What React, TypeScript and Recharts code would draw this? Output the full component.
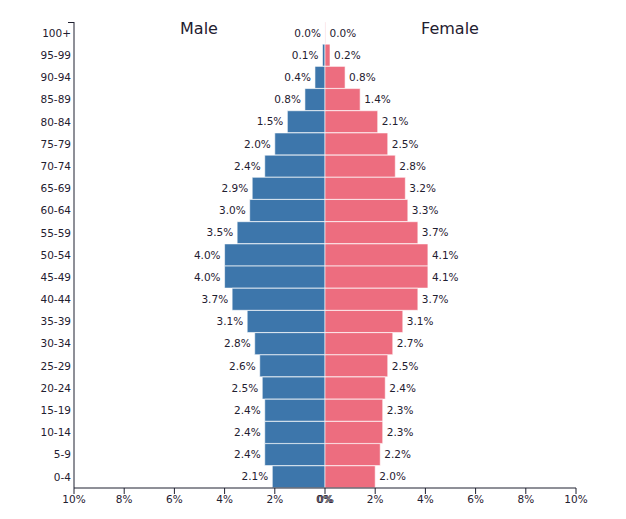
import { Bar, BarChart, LabelList, XAxis, YAxis } from "recharts";

// Age groups, oldest first so they run top to bottom
const ageGroups = [
  "100+", "95-99", "90-94", "85-89", "80-84", "75-79", "70-74",
  "65-69", "60-64", "55-59", "50-54", "45-49", "40-44", "35-39",
  "30-34", "25-29", "20-24", "15-19", "10-14", "5-9", "0-4",
];

// Share of total population, percent
const malePct = [
  0.0, 0.1, 0.4, 0.8, 1.5, 2.0, 2.4, 2.9, 3.0, 3.5, 4.0,
  4.0, 3.7, 3.1, 2.8, 2.6, 2.5, 2.4, 2.4, 2.4, 2.1,
];
const femalePct = [
  0.0, 0.2, 0.8, 1.4, 2.1, 2.5, 2.8, 3.2, 3.3, 3.7, 4.1,
  4.1, 3.7, 3.1, 2.7, 2.5, 2.4, 2.3, 2.3, 2.2, 2.0,
];

const xTicks = [-10, -8, -6, -4, -2, 0, 2, 4, 6, 8, 10];

const MALE = "#3d76ab";
const FEMALE = "#ed6d7f";
const INK = "#1f2030";
const FONT = "DejaVu Sans, sans-serif";
const EDGE = "rgba(255,255,255,0.6)";

// males go negative so they extend left of the centre line
const rows = ageGroups.map((age, i) => ({
  age,
  male: -malePct[i],
  female: femalePct[i],
}));

function XTick(props: any) {
  const { x, y, payload } = props;
  const v = payload.value as number;
  const label = `${Math.abs(v)}%`;
  // the two halves both end on 0%, so it is drawn twice
  const offsets = v === 0 ? [-0.6, 0.6] : [0];
  return (
    <g>
      {offsets.map((o) => (
        <text
          key={o}
          x={x + o}
          y={y}
          dy="0.71em"
          textAnchor="middle"
          fill={INK}
          fontSize={10.5}
          fontFamily={FONT}
        >
          {label}
        </text>
      ))}
    </g>
  );
}

function barLabel(side: "left" | "right") {
  return (props: any) => {
    const { x, y, width, height, value } = props;
    const a = Number(x);
    const b = Number(x) + Number(width);
    const edge = side === "left" ? Math.min(a, b) - 4 : Math.max(a, b) + 4;
    return (
      <text
        x={edge}
        y={Number(y) + Number(height) / 2}
        dy="0.35em"
        textAnchor={side === "left" ? "end" : "start"}
        fill={INK}
        fontSize={10.5}
        fontFamily={FONT}
      >
        {Math.abs(Number(value)).toFixed(1)}%
      </text>
    );
  };
}

export default function App() {
  return (
    <div
      style={{
        position: "absolute",
        left: 0,
        top: 0,
        width: 626,
        height: 519,
        background: "#fff",
        fontFamily: FONT,
      }}
    >
      <BarChart
        width={626}
        height={519}
        data={rows}
        layout="vertical"
        stackOffset="sign"
        barCategoryGap={0}
        margin={{ top: 22, right: 50, bottom: 6, left: 0 }}
      >
        <XAxis
          type="number"
          domain={[-10, 10]}
          ticks={xTicks}
          interval={0}
          height={25}
          tick={<XTick />}
          tickSize={6}
          tickMargin={2}
          axisLine={{ stroke: INK }}
          tickLine={{ stroke: INK }}
        />
        <YAxis
          type="category"
          dataKey="age"
          width={74}
          interval={0}
          tickLine={false}
          tickSize={0}
          tickMargin={3}
          axisLine={{ stroke: INK }}
          tick={{ fill: INK, fontSize: 10.5, fontFamily: FONT }}
        />
        <Bar
          dataKey="male"
          stackId="pop"
          fill={MALE}
          stroke={EDGE}
          strokeWidth={1}
          minPointSize={-0.01}
          isAnimationActive={false}
        >
          <LabelList dataKey="male" content={barLabel("left")} />
        </Bar>
        <Bar
          dataKey="female"
          stackId="pop"
          fill={FEMALE}
          stroke={EDGE}
          strokeWidth={1}
          minPointSize={0.5}
          isAnimationActive={false}
        >
          <LabelList dataKey="female" content={barLabel("right")} />
        </Bar>
      </BarChart>
      {/* small tick capping the top of the age axis */}
      <div
        style={{
          position: "absolute",
          left: 68,
          top: 21.5,
          width: 6,
          height: 1,
          background: INK,
        }}
      />
      <div
        style={{
          position: "absolute",
          left: 149,
          width: 100,
          top: 19,
          textAlign: "center",
          fontSize: 16,
          color: INK,
        }}
      >
        Male
      </div>
      <div
        style={{
          position: "absolute",
          left: 400,
          width: 100,
          top: 19,
          textAlign: "center",
          fontSize: 16,
          color: INK,
        }}
      >
        Female
      </div>
    </div>
  );
}
